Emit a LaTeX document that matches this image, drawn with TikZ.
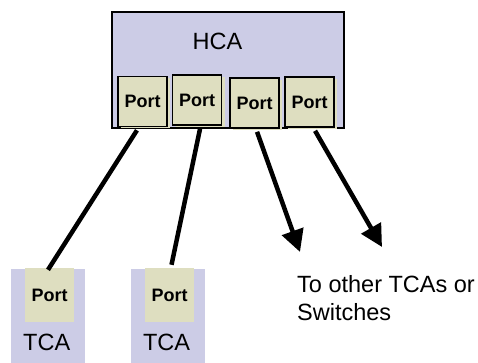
\documentclass[tikz,border=0pt]{standalone}
\usepackage{fontspec}
\setmainfont{Liberation Sans}
\usetikzlibrary{arrows.meta,calc}
\definecolor{lav}{RGB}{204,204,230}
\definecolor{beige}{RGB}{222,222,192}
\begin{document}
\begin{tikzpicture}[x=1pt,y=-1pt,
  hcabox/.style={draw=black,line width=1.6pt,fill=lav,minimum width=232pt,minimum height=116pt,inner sep=0pt},
  bigtext/.style={font=\fontsize{23.5}{28}\selectfont,inner sep=0pt},
  portbox/.style={draw=black,line width=1.6pt,fill=beige,minimum width=49pt,minimum height=50pt,inner sep=0pt,font=\fontsize{18}{20}\selectfont\bfseries},
  portshadow/.style={fill=beige,draw=none,minimum width=49pt,minimum height=50pt,inner sep=0pt},
  tcabox/.style={fill=lav,draw=none,minimum width=74pt,minimum height=94pt,inner sep=0pt},
  tportbox/.style={fill=beige,draw=none,minimum width=49pt,minimum height=54pt,inner sep=0pt,font=\fontsize{18}{20}\selectfont\bfseries},
  link/.style={line width=4.5pt,black},
  arrowlink/.style={link,-{Triangle[length=22pt,width=22pt]}}]
\useasboundingbox (0,0) rectangle (478,363);
% HCA
\node[hcabox] (hca) at (228,70) {};
\node[bigtext] (hcalabel) at (217.5,41.5) {HCA};
\node[portshadow] (s1) at (145.5,103.5) {};
\node[portshadow] (s2) at (200,102) {};
\node[portshadow] (s3) at (257.5,105) {};
\node[portshadow] (s4) at (312.5,104) {};
\node[portbox] (p1) at (142.5,101.5) {Port};
\node[portbox] (p2) at (197,100) {Port};
\node[portbox] (p3) at (254.5,103) {Port};
\node[portbox] (p4) at (309.5,102) {Port};
% TCAs
\node[tcabox] (tca1) at (48,316) {};
\node[tportbox] (t1p) at (49.5,295) {Port};
\node[bigtext] (t1l) at (46.7,342.5) {TCA};
\node[tcabox] (tca2) at (168,316) {};
\node[tportbox] (t2p) at (169.5,295) {Port};
\node[bigtext] (t2l) at (166.5,342.5) {TCA};
% other
\node[bigtext,align=left,anchor=base west] (other) at (297,320) {To other TCAs or\\Switches};
\coordinate (a3) at (300,252);
\coordinate (a4) at (382,247);
% connectors
\draw[link] ($(p1.south west)!0.39!(p1.south east)+(0,3)$) -- ($(t1p.north)+(-1.5,2)$);
\draw[link] ($(p2.south west)!0.56!(p2.south east)+(0,3)$) -- ($(t2p.north)+(2,-3)$);
\draw[arrowlink] ($(p3.south west)!0.55!(p3.south east)+(0,3)$) -- (a3);
\draw[arrowlink] ($(p4.south west)!0.61!(p4.south east)+(0,3)$) -- (a4);
\end{tikzpicture}
\end{document}
